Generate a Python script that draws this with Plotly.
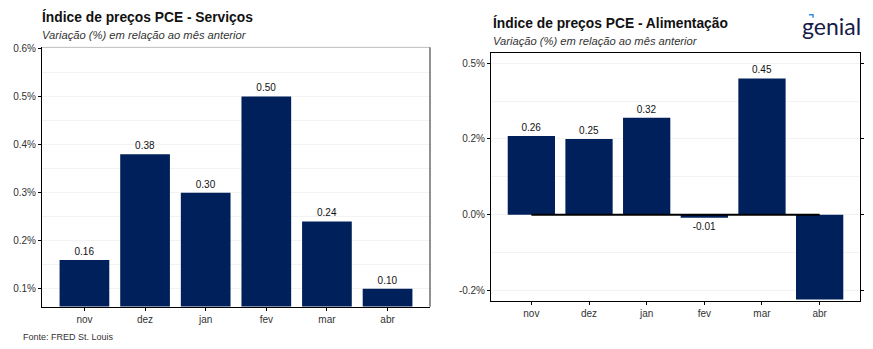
import plotly.graph_objects as go

# Monthly PCE change (% vs previous month)
months = ["nov", "dez", "jan", "fev", "mar", "abr"]
servicos = [0.16, 0.38, 0.30, 0.50, 0.24, 0.10]
alimentacao = [0.26, 0.25, 0.32, -0.01, 0.45, -0.28]

serv_ticks = [0.1, 0.2, 0.3, 0.4, 0.5, 0.6]
serv_ticktext = ["0.1%", "0.2%", "0.3%", "0.4%", "0.5%", "0.6%"]
alim_ticks = [-0.25, 0.0, 0.25, 0.5]
alim_ticktext = ["-0.2%", "0.0%", "0.2%", "0.5%"]

serv_labels = [f"{v:.2f}" for v in servicos]
alim_labels = [f"{v:.2f}" for v in alimentacao[:-1]] + [""]

NAVY = "#00205b"
FONT = "Liberation Sans, Arial, sans-serif"

fig = go.Figure()

fig.add_trace(go.Bar(
    x=months, y=servicos, text=serv_labels, textposition="outside",
    textfont=dict(size=10, color="#111"), marker=dict(color=NAVY, line=dict(width=0)),
    cliponaxis=False, xaxis="x", yaxis="y", showlegend=False,
))
fig.add_trace(go.Bar(
    x=months, y=alimentacao, text=alim_labels, textposition="outside",
    textfont=dict(size=10, color="#111"), marker=dict(color=NAVY, line=dict(width=0)),
    cliponaxis=False, xaxis="x2", yaxis="y2", showlegend=False,
))
# zero reference segment across the months
fig.add_trace(go.Scatter(
    x=[months[0], months[-1]], y=[0, 0], mode="lines",
    line=dict(color="black", width=2), xaxis="x2", yaxis="y2",
    showlegend=False, hoverinfo="skip",
))

axis_common = dict(
    showline=True, linecolor="black", linewidth=1, ticks="outside",
    ticklen=3, tickcolor="black", tickfont=dict(size=10, color="#333", family=FONT),
)

fig.update_layout(
    width=873, height=349, margin=dict(l=0, r=0, t=0, b=0),
    paper_bgcolor="white", plot_bgcolor="white",
    font=dict(family=FONT), bargap=0.18,
    xaxis=dict(domain=[42 / 873, 430 / 873], range=[-0.7, 5.7], anchor="y",
               showgrid=False, mirror=False, **axis_common),
    yaxis=dict(domain=[1 - 306 / 349, 1 - 43 / 349], range=[0.063, 0.602], anchor="x",
               tickvals=serv_ticks, ticktext=serv_ticktext, mirror=False,
               showgrid=True, gridcolor="#f3f3f3", zeroline=False,
               minor=dict(tick0=0.05, dtick=0.1, showgrid=True, gridcolor="#f3f3f3"),
               **axis_common),
    xaxis2=dict(domain=[491 / 873, 860 / 873], range=[-0.7, 5.7], anchor="y2",
                showgrid=False, mirror=True, **axis_common),
    yaxis2=dict(domain=[1 - 300.5 / 349, 1 - 49 / 349], range=[-0.286, 0.533], anchor="x2",
                tickvals=alim_ticks, ticktext=alim_ticktext, mirror="ticks",
                showgrid=True, gridcolor="#f3f3f3", zeroline=False,
                minor=dict(tick0=0.125, dtick=0.25, showgrid=True, gridcolor="#f3f3f3"),
                **axis_common),
)

# panel frame of the left chart: light top edge, dark right edge
fig.add_shape(type="line", xref="x domain", yref="y domain", x0=0, x1=1, y0=1, y1=1,
              line=dict(color="#bdbdbd", width=1))
fig.add_shape(type="line", xref="x domain", yref="y domain", x0=1, x1=1, y0=0, y1=1,
              line=dict(color="#222", width=1))

annotations = [
    dict(text="<b>Índice de preços PCE - Serviços</b>", x=40 / 873, y=1 - 12 / 349,
         font=dict(size=13.8, color="#111")),
    dict(text="<i>Variação (%) em relação ao mês anterior</i>", x=40 / 873, y=1 - 30 / 349,
         font=dict(size=11.2, color="#333")),
    dict(text="<b>Índice de preços PCE - Alimentação</b>", x=491 / 873, y=1 - 18 / 349,
         font=dict(size=13.8, color="#111")),
    dict(text="<i>Variação (%) em relação ao mês anterior</i>", x=491 / 873, y=1 - 37 / 349,
         font=dict(size=11.2, color="#333")),
    dict(text="Fonte: FRED St. Louis", x=21 / 873, y=1 - 337 / 349,
         font=dict(size=9, color="#333")),
]
for a in annotations:
    fig.add_annotation(xref="paper", yref="paper", xanchor="left", yanchor="middle",
                       showarrow=False, **a)

# brand mark
fig.add_annotation(text="genial", xref="paper", yref="paper", x=831 / 873, y=1 - 21 / 349,
                   xanchor="center", yanchor="middle", showarrow=False,
                   font=dict(size=23, color="#161c4a", family="Lato, Open Sans, sans-serif"))
fig.add_shape(type="path", xref="paper", yref="paper",
              path=f"M {809/873} {1-10/349} L {813/873} {1-10/349} L {813/873} {1-13/349}",
              line=dict(color="#2f8fe6", width=1.5))

fig.write_html("out.html")
